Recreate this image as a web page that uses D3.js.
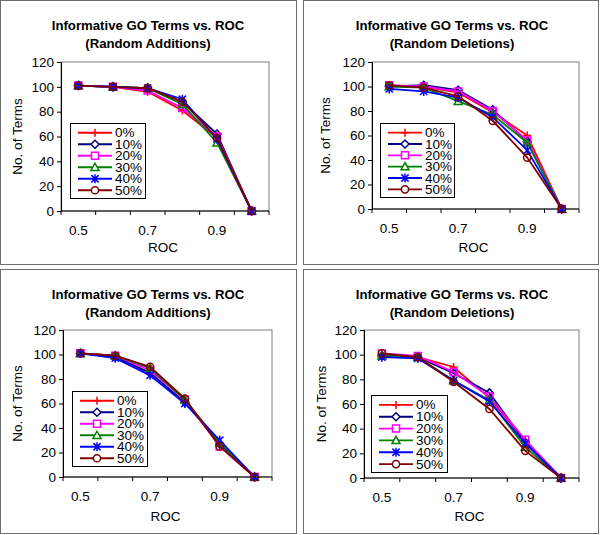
<!DOCTYPE html>
<html>
<head>
<meta charset="utf-8">
<script src="https://cdn.jsdelivr.net/npm/d3@7/dist/d3.min.js"></script>
<style>
html,body{margin:0;padding:0;background:#fff;}
svg{display:block;font-family:"Liberation Sans",Arial,sans-serif;}
</style>
</head>
<body>
<svg id="chart" width="600" height="535"></svg>
<script>
// ---------- DATA ----------
const categories = ["0.5", "0.6", "0.7", "0.8", "0.9", "1.0"];
const xTickLabels = ["0.5", "0.7", "0.9"];
const yTicks = [0, 20, 40, 60, 80, 100, 120];
const seriesNames = ["0%", "10%", "20%", "30%", "40%", "50%"];
const titleLine1 = "Informative GO Terms vs. ROC";
const subtitles = ["(Random Additions)", "(Random Deletions)", "(Random Additions)", "(Random Deletions)"];

// values per series (rows = 0%..50%, columns = ROC 0.5..1.0)
const additionsTop = [
  [101, 100, 96, 81, 59, 0],
  [101, 100, 99, 88, 62, 0],
  [101, 100, 97, 83, 60, 0],
  [101, 100, 99, 86, 55, 0],
  [101, 100, 99, 90, 58, 0],
  [101, 100, 99, 88, 59, 0]
];
const deletionsTop = [
  [101, 100, 95, 79, 60, 0],
  [100, 101, 97, 81, 55, 0],
  [101, 100, 96, 80, 56, 0],
  [100, 99, 88, 77, 54, 0],
  [98, 96, 91, 75, 48, 0],
  [101, 99, 92, 72, 42, 0]
];
const additionsBottom = [
  [101, 99, 89, 63, 26, 0],
  [101, 98, 85, 61, 27, 0],
  [101, 99, 87, 63, 25, 0],
  [101, 99, 89, 63, 28, 0],
  [101, 97, 83, 60, 30, 0],
  [101, 99, 90, 64, 25, 0]
];
const deletionsBottom = [
  [100, 98, 90, 65, 30, 0],
  [99, 98, 85, 69, 29, 0],
  [101, 99, 86, 66, 31, 0],
  [99, 98, 79, 63, 25, 0],
  [98, 97, 79, 62, 28, 0],
  [101, 98, 78, 56, 22, 0]
];
const panelData = [additionsTop, deletionsTop, additionsBottom, deletionsBottom];

// ---------- STYLE / LAYOUT ----------
const colors = ["#ff0000", "#000080", "#ff00ff", "#008000", "#0000ff", "#800000"];
const markerPaths = [
  "M-4,0H4M0,-4V4",                                            // plus
  "M0,-4L4,0L0,4L-4,0Z",                                       // diamond
  "M-3.5,-3.5H3.5V3.5H-3.5Z",                                  // square
  "M0,-4L4,3.2H-4Z",                                           // triangle
  "M0,-4.5V4.5M-3.6,-3.6L3.6,3.6M-3.6,3.6L3.6,-3.6",           // asterisk
  "M3.6,0A3.6,3.6 0 1,1 -3.6,0A3.6,3.6 0 1,1 3.6,0Z"           // circle
];

const panels = [
  {box:[0.5,0.5,296.5,264.5], plot:[61,62,269,211], ylab:17, tx:148, leg:[70,123,145,198]},
  {box:[303.5,0.5,598.5,264.5], plot:[372,62,579,209], ylab:325, tx:452, leg:[380,123,454,197]},
  {box:[0.5,269.5,296.5,533.5], plot:[63,330,272,477], ylab:17, tx:148, leg:[72,391,147,466]},
  {box:[303.5,269.5,598.5,533.5], plot:[364,330,579,478], ylab:321, tx:452, leg:[371,395,447,472]}
];

const svg = d3.select("#chart");

panels.forEach((p, pi) => {
  const g = svg.append("g");
  const [bx0, by0, bx1, by1] = p.box;
  g.append("rect").attr("x", bx0).attr("y", by0).attr("width", bx1 - bx0).attr("height", by1 - by0)
    .attr("fill", "#fff").attr("stroke", "#6e6e6e").attr("stroke-width", 1);

  const [x0, y0, x1, y1] = p.plot;
  const x = d3.scaleBand().domain(categories).range([x0, x1]).padding(0);
  const y = d3.scaleLinear().domain([0, 120]).range([y1, y0]);

  // plot area border (gray)
  g.append("rect").attr("x", x0).attr("y", y0).attr("width", x1 - x0).attr("height", y1 - y0)
    .attr("fill", "none").attr("stroke", "#808080").attr("stroke-width", 1);

  // title
  g.append("text").attr("x", p.tx).attr("y", by0 + 29).attr("text-anchor", "middle")
    .attr("font-size", 13.2).attr("font-weight", "bold").text(titleLine1);
  g.append("text").attr("x", p.tx).attr("y", by0 + 47).attr("text-anchor", "middle")
    .attr("font-size", 13.2).attr("font-weight", "bold").text(subtitles[pi]);

  // y axis
  const yAxis = d3.axisLeft(y).tickValues(yTicks).tickSize(4).tickPadding(3).tickFormat(d3.format("d"));
  const ya = g.append("g").attr("transform", `translate(${x0},0)`).call(yAxis);
  ya.select(".domain").attr("stroke", "#000");
  ya.selectAll("text").attr("font-size", 13.5).attr("fill", "#000").attr("font-family", "Liberation Sans, Arial, sans-serif");

  // x axis: labels at band centers, ticks at band boundaries
  const xAxis = d3.axisBottom(x).tickValues(xTickLabels).tickSize(0).tickPadding(14);
  const xa = g.append("g").attr("transform", `translate(0,${y1})`).call(xAxis);
  xa.select(".domain").remove();
  xa.selectAll("text").attr("font-size", 13.5).attr("fill", "#000").attr("font-family", "Liberation Sans, Arial, sans-serif");
  const bounds = categories.map(c => x(c)).concat([x1]);
  g.append("g").selectAll("line").data(bounds).join("line")
    .attr("x1", d => d).attr("x2", d => d).attr("y1", y1).attr("y2", y1 + 4)
    .attr("stroke", "#000");
  g.append("line").attr("x1", x0).attr("x2", x1).attr("y1", y1).attr("y2", y1).attr("stroke", "#000");

  // axis titles
  g.append("text").attr("x", (x0 + x1) / 2 - 2).attr("y", by0 + 251).attr("text-anchor", "middle")
    .attr("font-size", 13.5).text("ROC");
  g.append("text").attr("transform", `translate(${p.ylab},${(y0 + y1) / 2}) rotate(-90)`)
    .attr("text-anchor", "middle").attr("dominant-baseline", "central").attr("font-size", 13.5).text("No. of Terms");

  // series
  const line = d3.line().x((d, i) => x(categories[i]) + x.bandwidth() / 2).y(d => y(d));
  panelData[pi].forEach((vals, si) => {
    g.append("path").attr("d", line(vals)).attr("fill", "none")
      .attr("stroke", colors[si]).attr("stroke-width", 1.8);
    g.append("g").selectAll("path").data(vals).join("path")
      .attr("transform", (d, i) => `translate(${x(categories[i]) + x.bandwidth() / 2},${y(d)})`)
      .attr("d", markerPaths[si]).attr("fill", "none").attr("stroke", colors[si]).attr("stroke-width", 1.5);
  });

  // legend
  const [lx0, ly0, lx1, ly1] = p.leg;
  g.append("rect").attr("x", lx0 + 0.5).attr("y", ly0 + 0.5).attr("width", lx1 - lx0).attr("height", ly1 - ly0)
    .attr("fill", "#fff").attr("stroke", "#000").attr("stroke-width", 1);
  const rowH = (ly1 - ly0 - 6) / seriesNames.length;
  seriesNames.forEach((name, si) => {
    const cy = ly0 + 3 + rowH * (si + 0.5) + 1;
    g.append("line").attr("x1", lx0 + 8).attr("x2", lx0 + 42).attr("y1", cy).attr("y2", cy)
      .attr("stroke", colors[si]).attr("stroke-width", 1.8);
    g.append("path").attr("transform", `translate(${lx0 + 25},${cy})`).attr("d", markerPaths[si])
      .attr("fill", "#fff").attr("stroke", colors[si]).attr("stroke-width", 1.5);
    g.append("text").attr("x", lx0 + 45).attr("y", cy).attr("dominant-baseline", "central")
      .attr("font-size", 13.5).text(name);
  });
});
</script>
</body>
</html>
